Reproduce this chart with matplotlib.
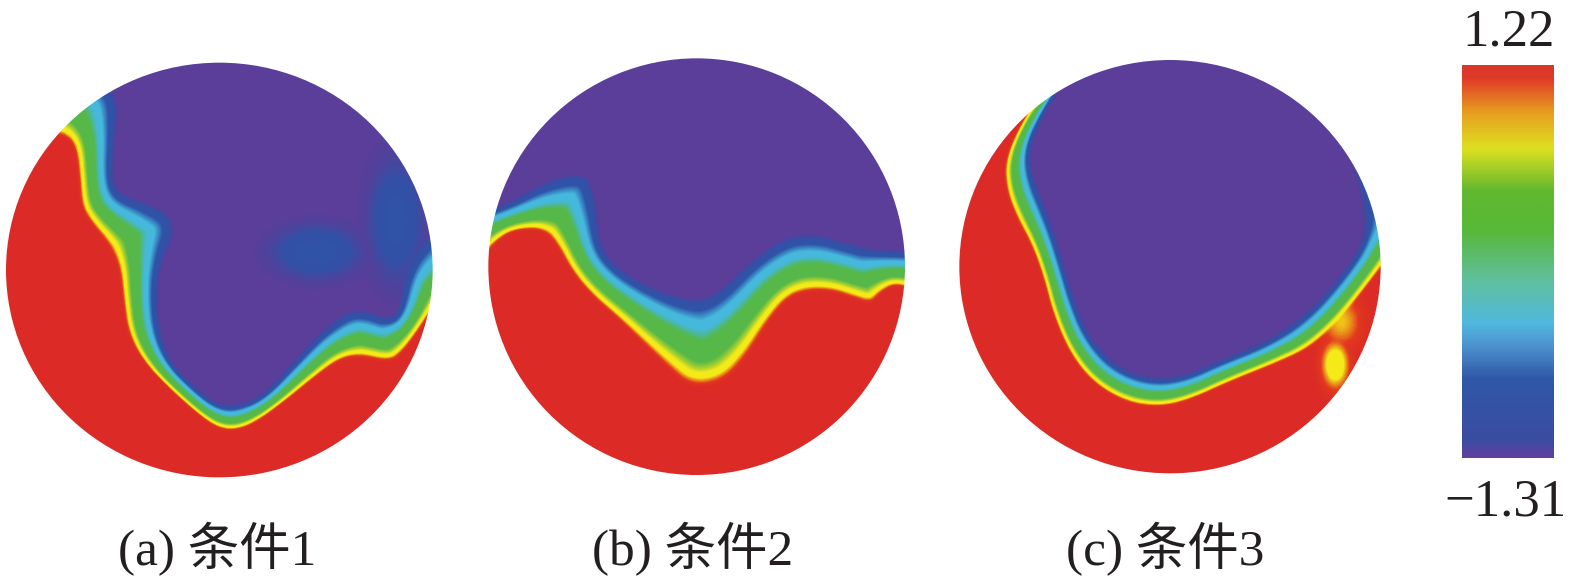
import numpy as np
import matplotlib
matplotlib.use('Agg')
import matplotlib.pyplot as plt
from matplotlib.colors import LinearSegmentedColormap
from matplotlib.patches import Ellipse
from matplotlib.path import Path

plt.rcParams['font.family'] = ['Liberation Serif', 'Noto Sans CJK SC']
plt.rcParams['axes.unicode_minus'] = False

# 读图得到的边界 (坐标单位: 原图像素*3)
# red = 红色区的边, blue = 紫色区的边
a_red_x = [130, 200, 225, 235, 240, 270, 320, 355, 365, 380, 430, 520, 600, 650, 700, 760, 850, 950, 1020, 1080, 1170, 1210, 1260, 1320]
a_red_y = [190, 200, 240, 330, 410, 460, 520, 590, 680, 790, 880, 970, 1040, 1075, 1085, 1065, 1000, 920, 870, 860, 880, 850, 780, 690]
a_blue_x = [320, 355, 345, 335, 350, 430, 510, 525, 490, 470, 475, 510, 590, 650, 710, 790, 880, 960, 1050, 1110, 1170, 1200, 1215, 1250, 1320]
a_blue_y = [40, 90, 200, 310, 370, 395, 430, 490, 560, 650, 780, 880, 960, 1005, 1010, 980, 880, 790, 720, 725, 750, 720, 620, 540, 460]

b_red_x = [20, 80, 130, 200, 240, 290, 350, 430, 510, 580, 630, 690, 760, 820, 880, 940, 1000, 1070, 1130, 1190, 1220, 1260, 1310]
b_red_y = [595, 530, 510, 510, 550, 640, 710, 780, 860, 930, 975, 985, 960, 890, 790, 715, 695, 695, 715, 735, 700, 675, 690]
b_blue_x = [20, 100, 200, 300, 350, 365, 375, 420, 500, 600, 680, 740, 820, 900, 960, 1040, 1120, 1200, 1310]
b_blue_y = [455, 430, 370, 335, 360, 450, 560, 620, 670, 710, 720, 690, 610, 550, 525, 525, 550, 570, 575]

c_red_x = [290, 230, 175, 180, 210, 260, 295, 320, 370, 440, 540, 640, 730, 850, 1000, 1090, 1170, 1230, 1330]
c_red_y = [100, 180, 300, 390, 470, 560, 660, 760, 880, 970, 1030, 1045, 1025, 970, 910, 870, 800, 730, 600]
c_blue_x = [350, 300, 250, 260, 310, 350, 385, 430, 510, 620, 720, 830, 960, 1080, 1180, 1250, 1265, 1225, 1170]
c_blue_y = [70, 150, 260, 350, 470, 600, 720, 830, 920, 960, 950, 900, 850, 770, 660, 560, 470, 320, 215]

# 局部斑点: x, y, rx, ry, 数值
a_spots = [(950, 545, 100, 60, 0.86), (1190, 450, 65, 140, 0.88)]
b_spots = []
c_spots = [(1172, 915, 38, 66, 0.16), (1190, 785, 60, 75, 0.09)]

labels = ['(a) 条件1', '(b) 条件2', '(c) 条件3']
bar_max = '1.22'
bar_min = '\u22121.31'

field_stops = [(0, '#dc2a26'), (0.04, '#e2391f'), (0.1, '#f3ea18'), (0.16, '#f3ea18'), (0.21, '#a8d030'), (0.28, '#55b848'),
               (0.5, '#55b848'), (0.62, '#45b8dc'), (0.72, '#45b8dc'), (0.84, '#2f55a8'), (0.95, '#3350a6'), (1, '#5a3e9a')]
bar_stops = [(0, '#6040a0'), (0.04, '#3a4ca0'), (0.2, '#3058a8'), (0.28, '#4c90cc'), (0.34, '#50b8e0'),
             (0.45, '#60c0a0'), (0.58, '#58b838'), (0.68, '#60b830'), (0.79, '#dde020'),
             (0.88, '#e8a020'), (0.97, '#e03a28'), (1, '#d83828')]
field_cmap = LinearSegmentedColormap.from_list('field', field_stops)
bar_cmap = LinearSegmentedColormap.from_list('bar', bar_stops)

W, H = 1575, 581


def smooth(xs, ys, n=3):
    # 切角, 让折线变圆滑
    p = np.c_[xs, ys].astype(float)
    for _ in range(n):
        q = [p[0]]
        for i in range(len(p) - 1):
            q.append(0.75 * p[i] + 0.25 * p[i + 1])
            q.append(0.25 * p[i] + 0.75 * p[i + 1])
        q.append(p[-1])
        p = np.array(q)
    return p[:, 0], p[:, 1]


def line_dist(gx, gy, xs, ys):
    best = np.full(gx.shape, 1e12)
    for i in range(len(xs) - 1):
        dx, dy = xs[i + 1] - xs[i], ys[i + 1] - ys[i]
        s = ((gx - xs[i]) * dx + (gy - ys[i]) * dy) / (dx * dx + dy * dy + 1e-9)
        s = np.clip(s, 0, 1)
        best = np.minimum(best, np.hypot(gx - xs[i] - s * dx, gy - ys[i] - s * dy))
    return best


def inside(gx, gy, xs, ys, far_y):
    pts = list(zip(xs, ys)) + [(1900, ys[-1]), (1900, far_y), (-500, far_y), (-500, ys[0])]
    return Path(pts).contains_points(np.c_[gx.ravel(), gy.ravel()]).reshape(gx.shape)


def blur(z, n=5):
    k = np.ones(n) / n
    z = np.pad(z, n, mode='edge')
    z = np.apply_along_axis(lambda r: np.convolve(r, k, mode='same'), 0, z)
    z = np.apply_along_axis(lambda r: np.convolve(r, k, mode='same'), 1, z)
    return z[n:-n, n:-n]


def draw_panel(box, top, centre, radii, red, blue, spots):
    # box: 左 上 宽 高 (像素), top: 轴顶部的读图坐标
    x0, y0, w, h = box
    ax = fig.add_axes([x0 / W, 1 - (y0 + h) / H, w / W, h / H])
    gx, gy = np.meshgrid(np.linspace(0, w * 3, w), np.linspace(top, top + h * 3, h))
    rx, ry = smooth(*red)
    bx, by = smooth(*blue)
    dr = line_dist(gx, gy, rx, ry)
    db = line_dist(gx, gy, bx, by)
    t = dr / (dr + db + 1e-9)
    t[inside(gx, gy, rx, ry, 1800)] = 0
    t[inside(gx, gy, bx, by, -800)] = 1
    for sx, sy, srx, sry, val in spots:
        g = np.exp(-((gx - sx) / srx) ** 2 - ((gy - sy) / sry) ** 2)
        if val > 0.5:
            t = np.minimum(t, 1 - (1 - val) * g)
        else:
            t = np.maximum(t, val * g)
    t = blur(t)
    im = ax.imshow(t, cmap=field_cmap, vmin=0, vmax=1, interpolation='bilinear',
                   extent=(0, w * 3, top + h * 3, top), aspect='auto')
    clip = Ellipse(centre, radii[0] * 2, radii[1] * 2, transform=ax.transData, fc='none', ec='none')
    ax.add_patch(clip)
    im.set_clip_path(clip)
    ax.set_xlim(0, w * 3)
    ax.set_ylim(top + h * 3, top)
    ax.axis('off')


fig = plt.figure(figsize=(W / 100, H / 100), dpi=100, facecolor='white')

draw_panel((0, 50, 450, 430), -60, (658, 600), (640, 622), (a_red_x, a_red_y), (a_blue_x, a_blue_y), a_spots)
draw_panel((475, 50, 440, 430), -30, (665, 620), (625, 625), (b_red_x, b_red_y), (b_blue_x, b_blue_y), b_spots)
draw_panel((945, 50, 440, 430), -30, (675, 620), (632, 620), (c_red_x, c_red_y), (c_blue_x, c_blue_y), c_spots)

# 色标
cax = fig.add_axes([1462 / W, 1 - 458 / H, 92 / W, 393 / H])
grad = np.linspace(-1.31, 1.22, 200).reshape(-1, 1)
cax.imshow(grad, cmap=bar_cmap, aspect='auto', origin='lower', vmin=-1.31, vmax=1.22)
cax.axis('off')

fig.text(1509 / W, 1 - 45 / H, bar_max, fontsize=38, ha='center', va='baseline', color='#231f20')
fig.text(1505 / W, 1 - 515 / H, bar_min, fontsize=38, ha='center', va='baseline', color='#231f20')
for cx, lab in zip([217, 693, 1165], labels):
    fig.text(cx / W, 1 - 565 / H, lab, fontsize=37, ha='center', va='baseline', color='#231f20')

fig.savefig('out.png', dpi=100)
